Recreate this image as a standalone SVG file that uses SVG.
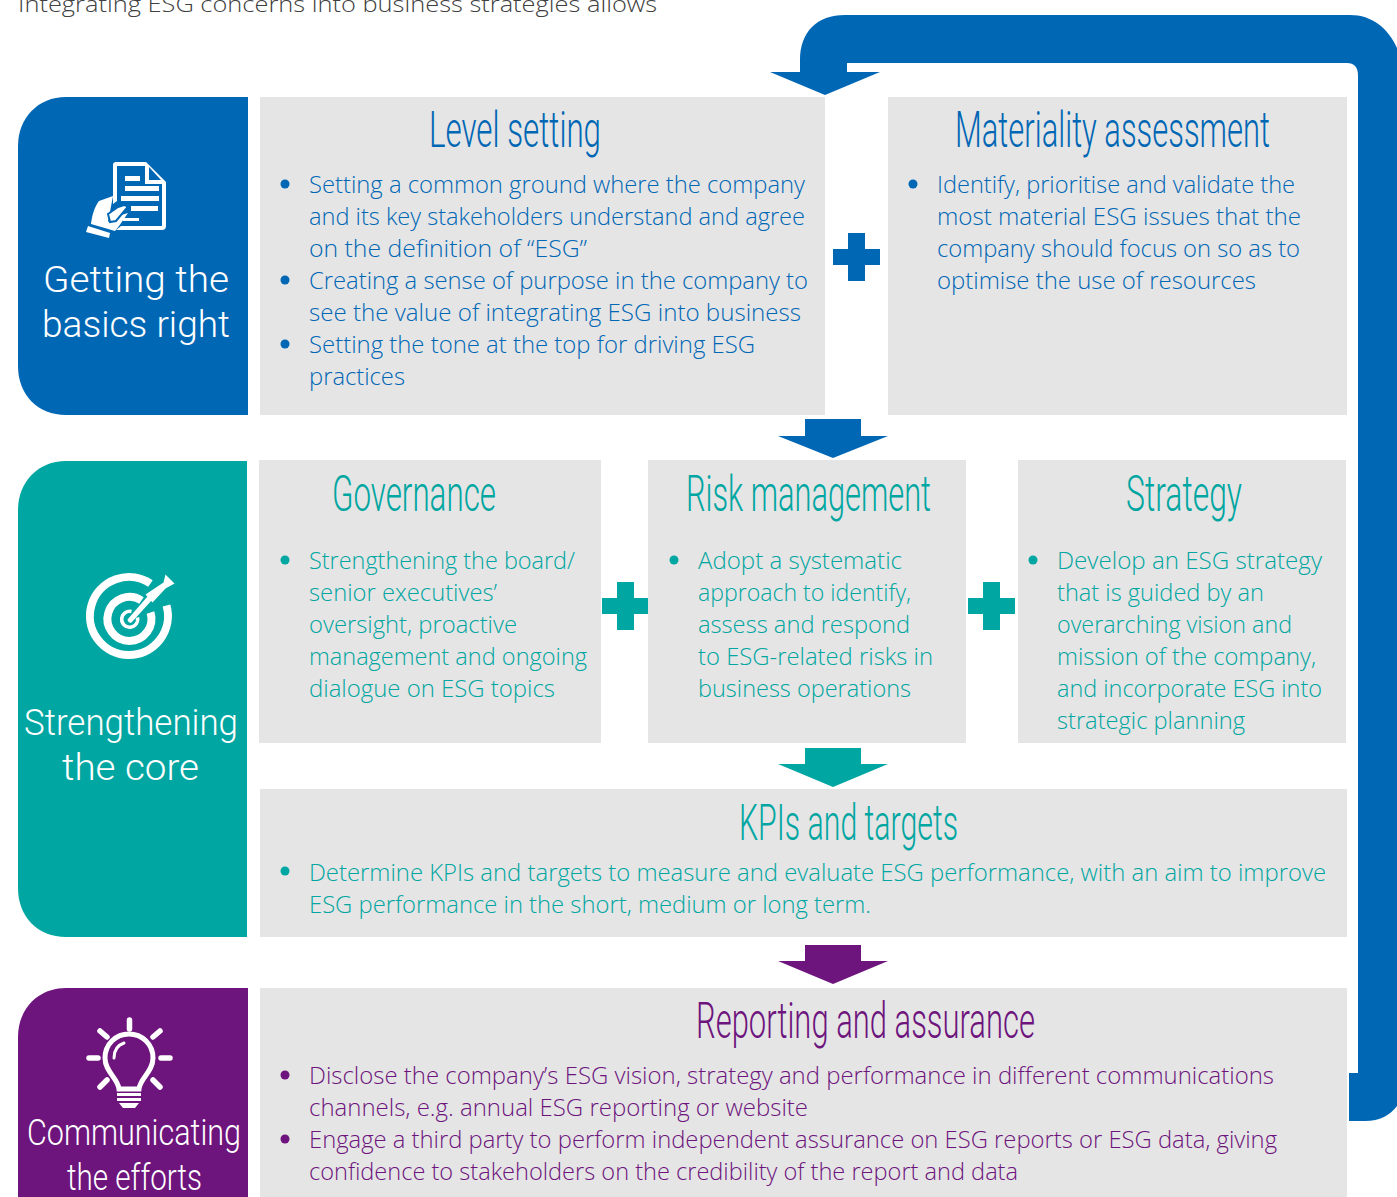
<svg xmlns="http://www.w3.org/2000/svg" width="1397" height="1197" viewBox="0 0 1397 1197">
<style>
text{font-family:"Open Sans","Liberation Sans",sans-serif;font-weight:300}
.panel{fill:#e5e5e5}
.b{font-size:24px;transform:translateY(1px)}
.h{font-size:50px;font-family:"Roboto","Liberation Sans",sans-serif;font-weight:300;transform:translateY(-1px)}
.s{font-size:36px;fill:#fff;font-family:"Roboto","Liberation Sans",sans-serif;font-weight:300}
.blue{fill:#0067b5}.teal{fill:#00a6a1}.purple{fill:#6d147d}.white{fill:#fff}
.ln{fill:none;stroke:#fff;stroke-linecap:round}
</style>
<rect width="1397" height="1197" fill="#fff"/>
<text id="intro" x="18" y="12" font-size="22" textLength="639" lengthAdjust="spacingAndGlyphs" fill="#404040">Integrating ESG concerns into business strategies allows</text>
<g id="connectors">
<path class="blue" d="M800 72V60C800 32 817 15 845 15H1350C1372 15 1388 28 1397 48V1106C1390 1115 1380 1121 1365 1121H1349V1073H1358V75C1358 67 1354 63 1347 63H847V72H880L825 95L770 72Z"/>
<path class="blue" d="M805 419H861V436H888L833 458L778 436H805Z"/>
<path class="teal" d="M805 748H861V764H888L833 787L778 764H805Z"/>
<path class="purple" d="M805 945H861V961H888L833 984L778 961H805Z"/>
<path class="blue" d="M848 233H865V249H880V265H865V281H848V265H833V249H848Z"/>
<path class="teal" d="M617 582H634V598H649.500V614H634V630H617V614H602V598H617Z"/>
<path class="teal" d="M983 582H1000V598H1015V614H1000V630H983V614H968V598H983Z"/>
</g>
<g id="getting-basics">
<path class="blue" d="M248 97H66C38 97 18 118 18 146V366C18 395 38 415 66 415H248Z"/>
<path class="white" d="M116 162H146L166 182V226Q166 230 162 230H116L121 226H162V184H145V166H117V201L113 204V165Q113 162 116 162ZM149 167V180H161Z"/>
<path class="white" d="M125 176H140V181H125ZM125 186H159V191H125ZM121 196H159V201H121ZM131 206H158V211H131ZM123 218H139V221H123Z"/>
<path class="white" d="M113 196L99 201C95 206 92 215 91 224L115 231L119 226L128 213L118 216L108 222Z"/>
<path class="white" stroke="#0067b5" stroke-width="2" d="M108 214L118 207L124 205Q129 206 126 209L116 221L110 222Z"/>
<path class="white" d="M88 226L110 233L109 238L86 232Z"/>
<text class="s" x="43" y="292" textLength="186" lengthAdjust="spacingAndGlyphs">Getting the</text>
<text class="s" x="42" y="337" textLength="188" lengthAdjust="spacingAndGlyphs">basics right</text>
</g>
<g id="strengthening-core">
<path class="teal" d="M247 461H66C38 461 18 482 18 510V888C18 917 38 937 66 937H247Z"/>
<g transform="translate(0.500 2.500)">
<g fill="none" stroke="#fff">
<path stroke-width="8" d="M150 581A39 39 0 1 0 166 603"/>
<path stroke-width="8" d="M141 598A22 22 0 1 0 150 610"/>
<path stroke-width="3.500" d="M131 609A8 8 0 1 0 137 615"/>
</g>
<path class="white" d="M127 617L147 594L151 598L131 620Q128 621 127 617Z"/>
<path class="white" d="M145 592L163 580L165 572L174 581L165 586L152 600Z"/>
</g>
<text class="s" x="24" y="735" textLength="214" lengthAdjust="spacingAndGlyphs">Strengthening</text>
<text class="s" x="62" y="780" textLength="137" lengthAdjust="spacingAndGlyphs">the core</text>
</g>
<g id="communicating-efforts">
<path class="purple" d="M248 988H66C38 988 18 1009 18 1037V1197H248Z"/>
<path fill="none" stroke="#fff" stroke-width="5" d="M119 1089C118 1078 105 1072 105 1058C105 1044 116 1034 129 1034C142 1034 153 1044 153 1058C153 1072 140 1078 139 1089Z"/>
<g class="ln" stroke-width="5.500">
<path d="M129.500 1020V1029M100 1031L107 1037M160 1031L153 1037M89 1058H98M161 1058H170M100 1087L107 1080M160 1087L153 1080"/>
</g>
<path class="ln" stroke-width="3" d="M114 1058C114 1050 118 1045 124 1043"/>
<path class="white" d="M117 1093H141V1096H117ZM117 1098H141V1101H117ZM119 1103H139L135 1108H123Z"/>
<text class="s" x="27" y="1145" textLength="214" lengthAdjust="spacingAndGlyphs">Communicating</text>
<text class="s" x="67" y="1190" textLength="135" lengthAdjust="spacingAndGlyphs">the efforts</text>
</g>
<g id="level-setting">
<rect class="panel" x="260" y="97" width="565" height="318"/>
<text class="h" x="429" y="148" textLength="172" lengthAdjust="spacingAndGlyphs" fill="#0067b5">Level setting</text>
<g class="blue">
<circle cx="285" cy="184" r="4.500"/><circle cx="285" cy="280" r="4.500"/><circle cx="285" cy="344" r="4.500"/>
<text class="b" x="309" y="192" textLength="496" lengthAdjust="spacingAndGlyphs">Setting a common ground where the company</text>
<text class="b" x="309" y="224" textLength="496" lengthAdjust="spacingAndGlyphs">and its key stakeholders understand and agree</text>
<text class="b" x="309" y="256" textLength="278" lengthAdjust="spacingAndGlyphs">on the definition of “ESG”</text>
<text class="b" x="309" y="288" textLength="499" lengthAdjust="spacingAndGlyphs">Creating a sense of purpose in the company to</text>
<text class="b" x="309" y="320" textLength="492" lengthAdjust="spacingAndGlyphs">see the value of integrating ESG into business</text>
<text class="b" x="309" y="352" textLength="446" lengthAdjust="spacingAndGlyphs">Setting the tone at the top for driving ESG</text>
<text class="b" x="309" y="384" textLength="96" lengthAdjust="spacingAndGlyphs">practices</text>
</g>
</g>
<g id="materiality-assessment">
<rect class="panel" x="888" y="97" width="459" height="318"/>
<text class="h" x="955" y="148" textLength="315" lengthAdjust="spacingAndGlyphs" fill="#0067b5">Materiality assessment</text>
<g class="blue">
<circle cx="913" cy="184" r="4.500"/>
<text class="b" x="937" y="192" textLength="358" lengthAdjust="spacingAndGlyphs">Identify, prioritise and validate the</text>
<text class="b" x="937" y="224" textLength="364" lengthAdjust="spacingAndGlyphs">most material ESG issues that the</text>
<text class="b" x="937" y="256" textLength="363" lengthAdjust="spacingAndGlyphs">company should focus on so as to</text>
<text class="b" x="937" y="288" textLength="319" lengthAdjust="spacingAndGlyphs">optimise the use of resources</text>
</g>
</g>
<g id="governance">
<rect class="panel" x="259" y="460" width="342" height="283"/>
<text class="h" x="332" y="512" textLength="164" lengthAdjust="spacingAndGlyphs" fill="#00a6a1">Governance</text>
<g class="teal">
<circle cx="285" cy="560" r="4.500"/>
<text class="b" x="309" y="568" textLength="266" lengthAdjust="spacingAndGlyphs">Strengthening the board/</text>
<text class="b" x="309" y="600" textLength="188" lengthAdjust="spacingAndGlyphs">senior executives’</text>
<text class="b" x="309" y="632" textLength="208" lengthAdjust="spacingAndGlyphs">oversight, proactive</text>
<text class="b" x="309" y="664" textLength="278" lengthAdjust="spacingAndGlyphs">management and ongoing</text>
<text class="b" x="309" y="696" textLength="246" lengthAdjust="spacingAndGlyphs">dialogue on ESG topics</text>
</g>
</g>
<g id="risk-management">
<rect class="panel" x="648" y="460" width="318" height="283"/>
<text class="h" x="686" y="512" textLength="245" lengthAdjust="spacingAndGlyphs" fill="#00a6a1">Risk management</text>
<g class="teal">
<circle cx="674" cy="560" r="4.500"/>
<text class="b" x="698" y="568" textLength="204" lengthAdjust="spacingAndGlyphs">Adopt a systematic</text>
<text class="b" x="698" y="600" textLength="213" lengthAdjust="spacingAndGlyphs">approach to identify,</text>
<text class="b" x="698" y="632" textLength="212" lengthAdjust="spacingAndGlyphs">assess and respond</text>
<text class="b" x="698" y="664" textLength="235" lengthAdjust="spacingAndGlyphs">to ESG-related risks in</text>
<text class="b" x="698" y="696" textLength="213" lengthAdjust="spacingAndGlyphs">business operations</text>
</g>
</g>
<g id="strategy">
<rect class="panel" x="1018" y="460" width="328" height="283"/>
<text class="h" x="1126" y="512" textLength="116" lengthAdjust="spacingAndGlyphs" fill="#00a6a1">Strategy</text>
<g class="teal">
<circle cx="1033" cy="560" r="4.500"/>
<text class="b" x="1057" y="568" textLength="265" lengthAdjust="spacingAndGlyphs">Develop an ESG strategy</text>
<text class="b" x="1057" y="600" textLength="207" lengthAdjust="spacingAndGlyphs">that is guided by an</text>
<text class="b" x="1057" y="632" textLength="235" lengthAdjust="spacingAndGlyphs">overarching vision and</text>
<text class="b" x="1057" y="664" textLength="259" lengthAdjust="spacingAndGlyphs">mission of the company,</text>
<text class="b" x="1057" y="696" textLength="265" lengthAdjust="spacingAndGlyphs">and incorporate ESG into</text>
<text class="b" x="1057" y="728" textLength="188" lengthAdjust="spacingAndGlyphs">strategic planning</text>
</g>
</g>
<g id="kpis-targets">
<rect class="panel" x="260" y="789" width="1087" height="148"/>
<text class="h" x="739" y="841" textLength="219" lengthAdjust="spacingAndGlyphs" fill="#00a6a1">KPIs and targets</text>
<g class="teal">
<circle cx="285" cy="871" r="4.500"/>
<text class="b" x="309" y="880" textLength="1017" lengthAdjust="spacingAndGlyphs">Determine KPIs and targets to measure and evaluate ESG performance, with an aim to improve</text>
<text class="b" x="309" y="912" textLength="562" lengthAdjust="spacingAndGlyphs">ESG performance in the short, medium or long term.</text>
</g>
</g>
<g id="reporting-assurance">
<rect class="panel" x="260" y="988" width="1087" height="209"/>
<text class="h" x="696" y="1039" textLength="339" lengthAdjust="spacingAndGlyphs" fill="#6d147d">Reporting and assurance</text>
<g class="purple">
<circle cx="285" cy="1075" r="4.500"/><circle cx="285" cy="1139" r="4.500"/>
<text class="b" x="309" y="1083" textLength="965" lengthAdjust="spacingAndGlyphs">Disclose the company’s ESG vision, strategy and performance in different communications</text>
<text class="b" x="309" y="1115" textLength="499" lengthAdjust="spacingAndGlyphs">channels, e.g. annual ESG reporting or website</text>
<text class="b" x="309" y="1147" textLength="968" lengthAdjust="spacingAndGlyphs">Engage a third party to perform independent assurance on ESG reports or ESG data, giving</text>
<text class="b" x="309" y="1179" textLength="709" lengthAdjust="spacingAndGlyphs">confidence to stakeholders on the credibility of the report and data</text>
</g>
</g>
</svg>
